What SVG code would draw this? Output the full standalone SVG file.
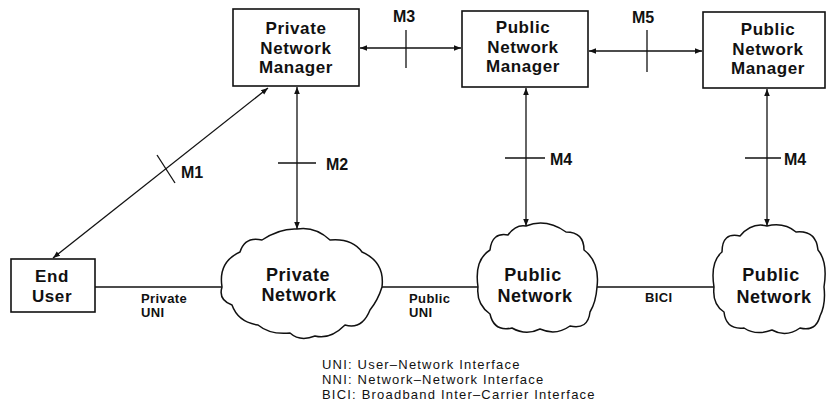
<svg xmlns="http://www.w3.org/2000/svg" width="826" height="412" viewBox="0 0 826 412">
  <defs>
    <marker id="arr" viewBox="0 0 10 10" refX="10" refY="5" markerWidth="7" markerHeight="7" orient="auto-start-reverse" markerUnits="userSpaceOnUse">
      <path d="M0,1 L10,5 L0,9 Z" fill="#111"/>
    </marker>
    <style>
      .box { fill: #fff; stroke: #111; stroke-width: 1.6; }
      .cloud { fill: #fff; stroke: #111; stroke-width: 1.5; stroke-linejoin: round; }
      .lbl { font-family: "Liberation Sans", Arial, sans-serif; font-weight: bold; font-size: 17px; letter-spacing: 0.6px; fill: #111; text-anchor: middle; }
      .big { font-size: 18px; letter-spacing: 0.6px; }
      .mlbl { font-family: "Liberation Sans", Arial, sans-serif; font-weight: bold; font-size: 16px; fill: #111; }
      .ilbl { font-family: "Liberation Sans", Arial, sans-serif; font-weight: bold; font-size: 13px; fill: #111; letter-spacing: 0.4px; }
      .legend { font-family: "Liberation Sans", Arial, sans-serif; font-size: 13px; fill: #111; letter-spacing: 1.2px; }
      .link { stroke: #111; stroke-width: 1.4; fill: none; }
      .mgmt { stroke: #111; stroke-width: 1.3; fill: none; marker-start: url(#arr); marker-end: url(#arr); }
      .tick { stroke: #111; stroke-width: 1.3; }
    </style>
  </defs>

  <!-- connectors -->
  <g id="connectors">
    <!-- network links -->
    <line class="link" x1="95" y1="287" x2="222" y2="287"/>
    <line class="link" x1="382" y1="287" x2="478" y2="287"/>
    <line class="link" x1="597" y1="287" x2="714" y2="287"/>
    <!-- management interfaces -->
    <line class="mgmt" x1="53" y1="258" x2="268" y2="88"/>
    <line class="tick" x1="157" y1="155" x2="175" y2="183"/>
    <line class="mgmt" x1="297" y1="87" x2="297" y2="229"/>
    <line class="tick" x1="278" y1="163" x2="316" y2="163"/>
    <line class="mgmt" x1="360" y1="48" x2="461" y2="48"/>
    <line class="tick" x1="406" y1="30" x2="406" y2="68"/>
    <line class="mgmt" x1="589" y1="51" x2="702" y2="51"/>
    <line class="tick" x1="647" y1="30" x2="647" y2="72"/>
    <line class="mgmt" x1="526" y1="88" x2="526" y2="226"/>
    <line class="tick" x1="505" y1="158" x2="545" y2="158"/>
    <line class="mgmt" x1="767" y1="89" x2="767" y2="226"/>
    <line class="tick" x1="745" y1="158" x2="781" y2="158"/>
    <!-- interface labels -->
    <text class="mlbl" x="181" y="178">M1</text>
    <text class="mlbl" x="326" y="170">M2</text>
    <text class="mlbl" x="393" y="22">M3</text>
    <text class="mlbl" x="550" y="165">M4</text>
    <text class="mlbl" x="632" y="23">M5</text>
    <text class="mlbl" x="784" y="165">M4</text>
    <text class="ilbl" x="141" y="303">Private</text>
    <text class="ilbl" x="141" y="317">UNI</text>
    <text class="ilbl" x="409" y="303">Public</text>
    <text class="ilbl" x="409" y="317">UNI</text>
    <text class="ilbl" x="645" y="302">BICI</text>
  </g>

  <g id="private-network-manager">
    <rect class="box" x="233" y="9" width="126" height="77"/>
    <text class="lbl" x="296" y="34">Private</text>
    <text class="lbl" x="296" y="54">Network</text>
    <text class="lbl" x="296" y="73">Manager</text>
  </g>

  <g id="public-network-manager-1">
    <rect class="box" x="462" y="11" width="126" height="76"/>
    <text class="lbl" x="523" y="33">Public</text>
    <text class="lbl" x="523" y="53">Network</text>
    <text class="lbl" x="523" y="72">Manager</text>
  </g>

  <g id="public-network-manager-2">
    <rect class="box" x="703" y="12" width="122" height="76"/>
    <text class="lbl" x="768" y="35">Public</text>
    <text class="lbl" x="768" y="55">Network</text>
    <text class="lbl" x="768" y="74">Manager</text>
  </g>

  <g id="end-user">
    <rect class="box" x="11" y="259" width="84" height="53"/>
    <text class="lbl" x="52" y="282">End</text>
    <text class="lbl" x="52" y="302">User</text>
  </g>

  <g id="private-network">
    <path class="cloud" d="M222,287 Q218,262 240,252 Q245,236 262,240 Q280,228 297,229 Q315,226 330,240 Q352,238 362,252 Q385,262 382,287 Q378,300 370,310 Q362,330 345,325 Q330,340 315,336 Q300,342 290,333 Q270,335 258,325 Q238,322 232,305 Q218,300 222,287 Z"/>
    <text class="lbl big" x="298" y="281">Private</text>
    <text class="lbl big" x="299" y="301">Network</text>
  </g>

  <g id="public-network-1">
    <path class="cloud" d="M478,287 Q474,260 490,250 Q492,232 508,235 Q516,224 526,226 Q546,218 566,232 Q584,232 584,250 Q600,262 597,287 Q596,302 590,312 Q588,330 570,326 Q556,336 540,329 Q526,336 512,328 Q494,332 490,314 Q476,304 478,287 Z"/>
    <text class="lbl big" x="533" y="281">Public</text>
    <text class="lbl big" x="535" y="302">Network</text>
  </g>

  <g id="public-network-2">
    <path class="cloud" d="M714,287 Q710,262 722,252 Q722,232 740,236 Q752,222 767,226 Q784,222 796,232 Q816,230 818,250 Q828,262 824,287 Q826,304 820,316 Q816,332 800,328 Q786,338 772,330 Q756,336 744,328 Q726,330 724,312 Q712,304 714,287 Z"/>
    <text class="lbl big" x="771" y="281">Public</text>
    <text class="lbl big" x="774" y="303">Network</text>
  </g>

  <g id="legend">
    <text class="legend" x="322" y="369">UNI: User–Network Interface</text>
    <text class="legend" x="322" y="384">NNI: Network–Network Interface</text>
    <text class="legend" x="322" y="399">BICI: Broadband Inter–Carrier Interface</text>
  </g>
</svg>
